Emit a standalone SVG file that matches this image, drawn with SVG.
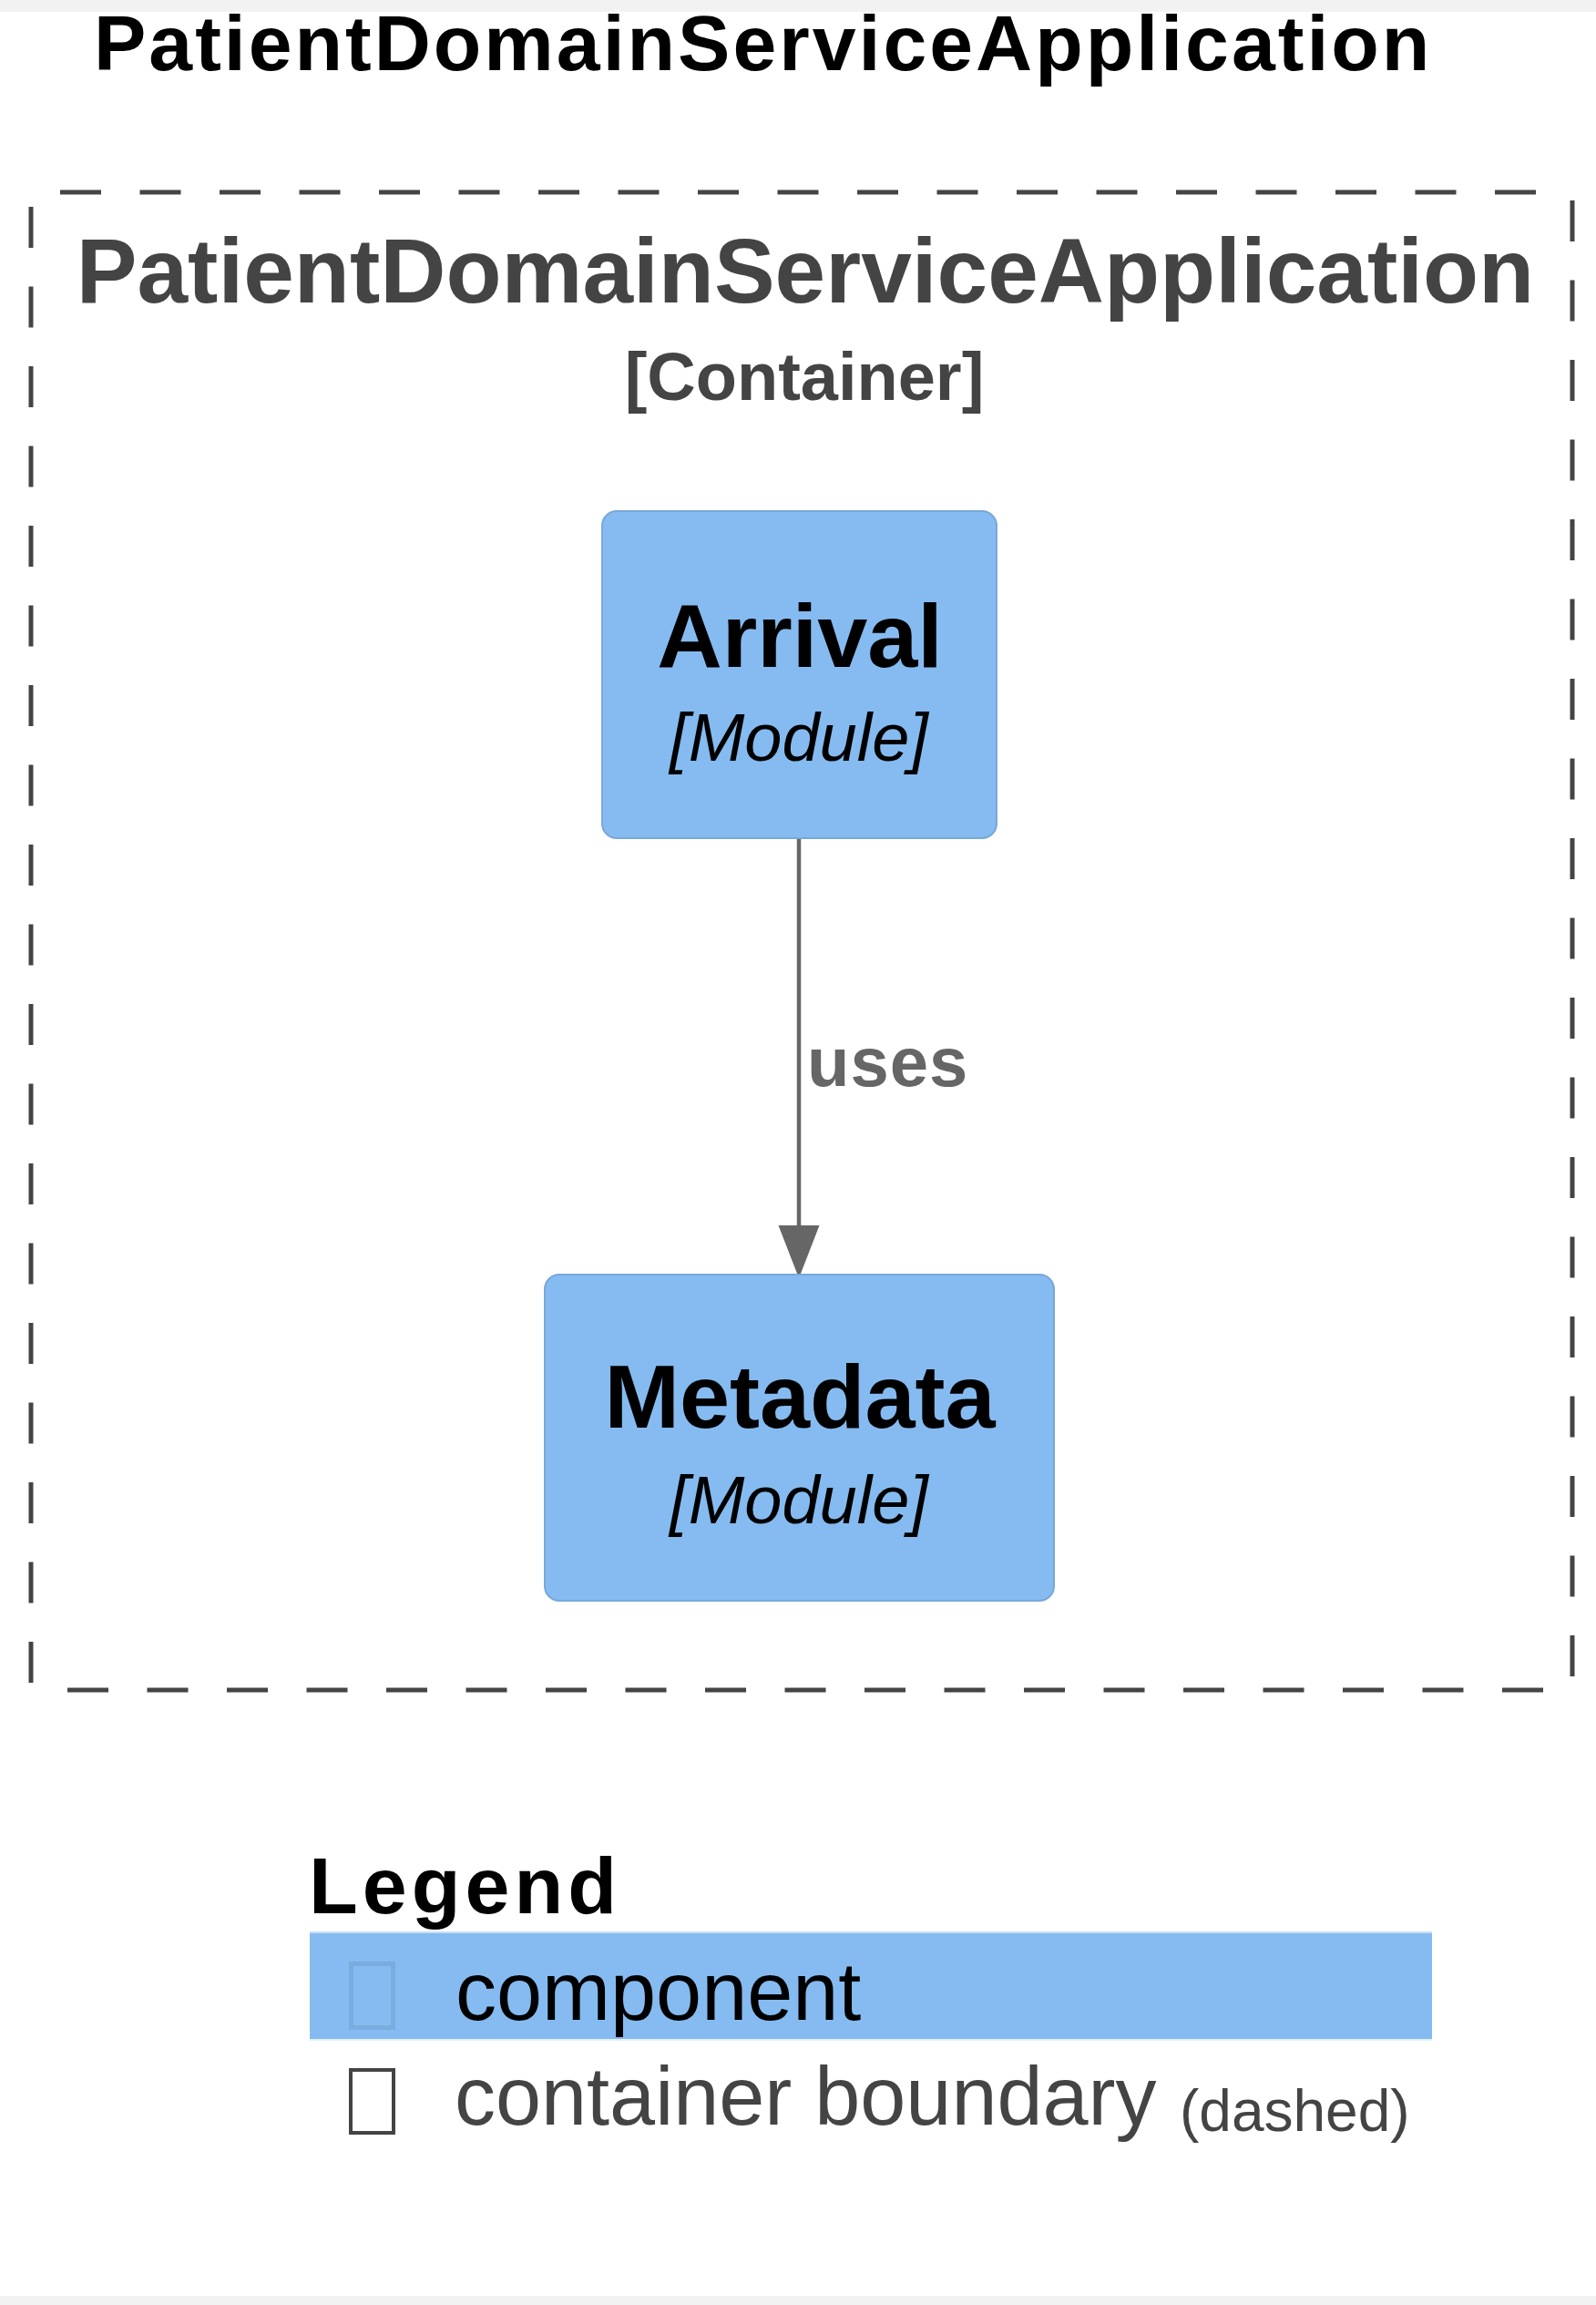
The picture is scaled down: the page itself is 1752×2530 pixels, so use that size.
<svg xmlns="http://www.w3.org/2000/svg" width="1752" height="2530" viewBox="0 0 1752 2530">
<style>
.t{font-family:"Liberation Sans",Arial,sans-serif}
.b{font-weight:bold}
.box{fill:#85BBF0;stroke:#78A8D8;stroke-width:2}
.name{font-size:99px;fill:#000;font-weight:bold;text-anchor:middle}
.tech{font-size:74px;fill:#000;font-style:italic;text-anchor:middle}
.dash{stroke:#444;stroke-width:5;stroke-dasharray:45 42.5;fill:none}
</style>
<defs>
<marker id="arr" markerUnits="userSpaceOnUse" markerWidth="60" markerHeight="46" refX="5" refY="22.5" orient="auto">
<path d="M0,0 L58,22.5 L0,45 z" fill="#666"/>
</marker>
</defs>
<rect x="0" y="0" width="1752" height="2530" fill="#fff"/>
<rect x="0" y="0" width="1752" height="13" fill="#f2f2f2"/>
<rect x="0" y="2520" width="1752" height="10" fill="#f2f2f2"/>
<text class="t b" x="103" y="77" font-size="86" letter-spacing="3" fill="#000">PatientDomainServiceApplication</text>
<g id="boundary">
<line class="dash" x1="66" y1="211" x2="1700" y2="211"/>
<line class="dash" x1="74" y1="1855" x2="1710" y2="1855"/>
<line class="dash" x1="34" y1="227" x2="34" y2="1850"/>
<line class="dash" x1="1726" y1="220" x2="1726" y2="1850"/>
<text class="t b" x="884" y="332" font-size="100" fill="#444" text-anchor="middle">PatientDomainServiceApplication</text>
<text class="t b" x="883" y="439" font-size="74" fill="#444" text-anchor="middle">[Container]</text>
</g>
<g id="connectors">
<line x1="877" y1="920" x2="877" y2="1350" stroke="#666" stroke-width="4.5" marker-end="url(#arr)"/>
<text class="t b" x="886" y="1192" font-size="76" letter-spacing="1" fill="#666">uses</text>
</g>
<g id="arrival">
<rect class="box" x="661" y="561" width="433" height="359" rx="16" ry="16"/>
<text class="t name" x="878" y="732">Arrival</text>
<text class="t tech" x="877" y="835">[Module]</text>
</g>
<g id="metadata">
<rect class="box" x="598" y="1399" width="559" height="358" rx="16" ry="16"/>
<text class="t name" x="878" y="1567">Metadata</text>
<text class="t tech" x="877" y="1672">[Module]</text>
</g>
<g id="legend">
<text class="t b" x="339" y="2100" font-size="88" letter-spacing="5" fill="#000">Legend</text>
<rect x="340" y="2121" width="1232" height="118" fill="#85BBF0"/>
<line x1="340" y1="2121" x2="1572" y2="2121" stroke="#c4ddf6" stroke-width="2"/>
<line x1="340" y1="2239" x2="1572" y2="2239" stroke="#e3effb" stroke-width="2"/>
<rect x="385.5" y="2155.5" width="46" height="70" fill="none" stroke="#7aaddf" stroke-width="5"/>
<text class="t" x="500" y="2217" font-size="90" fill="#000">component</text>
<rect x="385" y="2272" width="47" height="69" fill="#fff" stroke="#444" stroke-width="4"/>
<text class="t" x="499" y="2332" font-size="90" fill="#444">container boundary</text>
<text class="t" x="1295" y="2339" font-size="64" fill="#444">(dashed)</text>
</g>
</svg>
